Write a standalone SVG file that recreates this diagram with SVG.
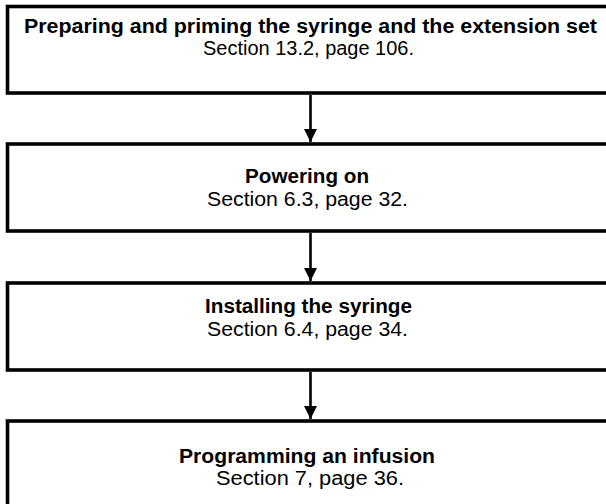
<svg xmlns="http://www.w3.org/2000/svg" width="606" height="504" viewBox="0 0 606 504">
<style>
.box{fill:#fff;stroke:#000;stroke-width:3.6}
.t{font-family:"Liberation Sans",Arial,sans-serif;font-size:19.5px;text-anchor:middle;fill:#000}
.b{font-weight:bold}
.c{stroke:#000;stroke-width:2.6;fill:none}
</style>
<defs>
<marker id="ah" markerUnits="userSpaceOnUse" markerWidth="14" markerHeight="13" refX="13" refY="6.5" orient="auto">
<path d="M0,0 L13,6.5 L0,13 Z" fill="#000"/>
</marker>
</defs>
<rect x="0" y="0" width="606" height="504" fill="#fff"/>
<g id="n1">
<rect class="box" x="7.5" y="6.5" width="610" height="86.5"/>
<text class="t b" x="310.5" y="33" textLength="573" lengthAdjust="spacingAndGlyphs">Preparing and priming the syringe and the extension set</text>
<text class="t" x="308.5" y="55" textLength="211" lengthAdjust="spacingAndGlyphs">Section 13.2, page 106.</text>
</g>
<g id="n2">
<rect class="box" x="7.5" y="144" width="610" height="87"/>
<text class="t b" x="307" y="183" textLength="124" lengthAdjust="spacingAndGlyphs">Powering on</text>
<text class="t" x="307.5" y="206" textLength="201" lengthAdjust="spacingAndGlyphs">Section 6.3, page 32.</text>
</g>
<g id="n3">
<rect class="box" x="7.5" y="283" width="610" height="87"/>
<text class="t b" x="308.5" y="313" textLength="207" lengthAdjust="spacingAndGlyphs">Installing the syringe</text>
<text class="t" x="307.5" y="336" textLength="201" lengthAdjust="spacingAndGlyphs">Section 6.4, page 34.</text>
</g>
<g id="n4">
<rect class="box" x="7.5" y="421" width="610" height="100"/>
<text class="t b" x="307" y="463" textLength="256" lengthAdjust="spacingAndGlyphs">Programming an infusion</text>
<text class="t" x="310" y="485" textLength="188" lengthAdjust="spacingAndGlyphs">Section 7, page 36.</text>
</g>
<g id="connectors">
<line class="c" x1="310.5" y1="95" x2="310.5" y2="142" marker-end="url(#ah)"/>
<line class="c" x1="310.5" y1="233" x2="310.5" y2="281" marker-end="url(#ah)"/>
<line class="c" x1="310.5" y1="372" x2="310.5" y2="419" marker-end="url(#ah)"/>
</g>
</svg>
